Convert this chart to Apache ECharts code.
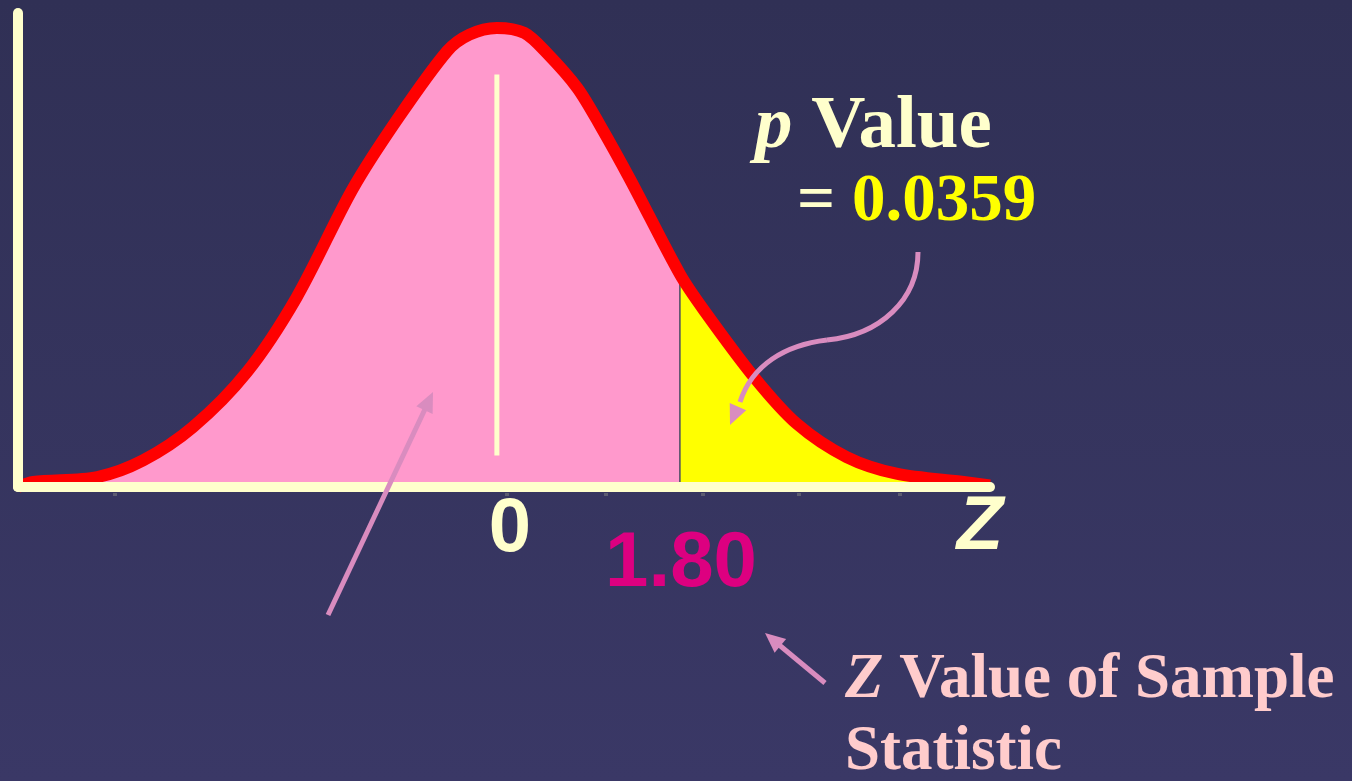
<!DOCTYPE html>
<html>
<head>
<meta charset="utf-8">
<script src="https://cdn.jsdelivr.net/npm/echarts@6/dist/echarts.min.js"></script>
<style>
  html, body { margin: 0; padding: 0; }
  #chart { width: 1352px; height: 781px; }
</style>
</head>
<body>
<div id="chart"></div>
<script>
// curve: z position and height of the red curve
var zValues = [-4.71, -4.56, -3.93, -3.48, -2.99, -2.46, -1.97, -1.42, -0.98, -0.49, -0.27, 0, 0.27, 0.49, 0.79, 1.01, 1.31, 1.80, 2.04, 2.53, 2.95, 3.44, 3.93, 4.59, 4.85];
var density = [0.000, 0.003, 0.006, 0.016, 0.036, 0.069, 0.114, 0.179, 0.221, 0.262, 0.272, 0.276, 0.273, 0.261, 0.240, 0.218, 0.185, 0.128, 0.106, 0.066, 0.038, 0.018, 0.008, 0.003, 0.001];
var zSample = 1.80;          // z value of the sample statistic
var pValue = '0.0359';
var tickValues = [-3.76, 0.10, 1.07, 2.02, 2.97, 3.96];
var centerLine = [0.019, 0.248];   // bottom / top of the cream line at z = 0

var CREAM = '#ffffcc', PINK = '#ff99cc', ARROW = '#d98cbf';

var curve = zValues.map(function (z, i) { return [z, density[i]]; });
var tail = [[zSample, 0]].concat(curve.filter(function (p) { return p[0] >= zSample; }));

var myChart = echarts.init(document.getElementById('chart'));

function arrow(x1, y1, x2, y2) {
  var dx = x2 - x1, dy = y2 - y1, len = Math.sqrt(dx * dx + dy * dy);
  var ux = dx / len, uy = dy / len, hl = 20, hw = 9;
  var bx = x2 - ux * hl, by = y2 - uy * hl;
  return {
    type: 'polygon', z: 100,
    shape: { points: [[x2, y2], [bx - uy * hw, by + ux * hw], [bx + uy * hw, by - ux * hw]] },
    style: { fill: ARROW }
  };
}
function shaft(x1, y1, x2, y2) {
  return { type: 'line', z: 100, shape: { x1: x1, y1: y1, x2: x2, y2: y2 }, style: { stroke: ARROW, lineWidth: 5 } };
}
function bez(x1, y1, c1x, c1y, c2x, c2y, x2, y2) {
  return {
    type: 'bezierCurve', z: 100,
    shape: { x1: x1, y1: y1, cpx1: c1x, cpy1: c1y, cpx2: c2x, cpy2: c2y, x2: x2, y2: y2 },
    style: { stroke: ARROW, lineWidth: 5, fill: null }
  };
}

var serif = '"Liberation Serif", "Times New Roman", serif';

myChart.setOption({
  backgroundColor: {
    type: 'linear', x: 0, y: 0, x2: 0, y2: 1,
    colorStops: [{ offset: 0, color: '#303055' }, { offset: 1, color: '#3a3866' }]
  },
  animation: false,
  grid: { left: 18, right: 362, top: 13, bottom: 294 },
  xAxis: [
    {
      type: 'value', min: -4.71, max: 4.85, z: 10,
      axisLine: { lineStyle: { color: CREAM, width: 10, cap: 'round' } },
      axisTick: { show: false }, axisLabel: { show: false }, splitLine: { show: false }
    },
    {
      type: 'value', min: -4.71, max: 4.85, position: 'bottom', offset: 6,
      axisLine: { show: false },
      axisTick: { show: true, customValues: tickValues, length: 3, lineStyle: { color: '#5c5c70', width: 4 } },
      axisLabel: { show: false }, splitLine: { show: false }
    }
  ],
  yAxis: {
    type: 'value', min: 0, max: 0.285, z: 10,
    axisLine: { show: true, onZero: false, lineStyle: { color: CREAM, width: 10, cap: 'round' } },
    axisTick: { show: false }, axisLabel: { show: false }, splitLine: { show: false }
  },
  series: [
    {
      type: 'line', data: curve, symbol: 'none', z: 1,
      lineStyle: { width: 0 }, areaStyle: { color: PINK, opacity: 1 }
    },
    {
      type: 'line', data: tail, symbol: 'none', z: 1, smooth: 0.3,
      lineStyle: { color: '#4a4a66', width: 1.5 }, areaStyle: { color: '#ffff00', opacity: 1 }
    },
    {
      type: 'line', data: curve, symbol: 'none', z: 2, smooth: 0.3,
      lineStyle: { color: '#ff0000', width: 12 }
    },
    {
      type: 'line', data: [[0, centerLine[0]], [0, centerLine[1]]], symbol: 'none', z: 3,
      lineStyle: { color: CREAM, width: 5 }
    }
  ],
  graphic: [
    { type: 'text', z: 100, x: 510, y: 530, style: { text: '0', fill: CREAM, font: 'bold 76px "Liberation Sans", Arial', align: 'center', verticalAlign: 'middle' } },
    { type: 'text', z: 100, x: 681, y: 564, style: { text: zSample.toFixed(2), fill: '#dd0080', font: 'bold 78px "Liberation Sans", Arial', align: 'center', verticalAlign: 'middle' } },
    { type: 'text', z: 100, x: 980, y: 528, style: { text: 'Z', fill: CREAM, font: 'italic bold 76px "Liberation Sans", Arial', align: 'center', verticalAlign: 'middle' } },
    {
      type: 'text', z: 100, x: 755, y: 128,
      style: {
        text: '{i|p }{b|Value}', fill: CREAM, verticalAlign: 'middle',
        rich: {
          i: { font: 'italic bold 75px ' + serif, fill: CREAM },
          b: { font: 'bold 75px ' + serif, fill: CREAM }
        }
      }
    },
    {
      type: 'text', z: 100, x: 797, y: 203,
      style: {
        text: '{e|= }{v|' + pValue + '}', verticalAlign: 'middle',
        rich: {
          e: { font: 'bold 67px ' + serif, fill: CREAM },
          v: { font: 'bold 67px ' + serif, fill: '#ffff00' }
        }
      }
    },
    {
      type: 'text', z: 100, x: 845, y: 681,
      style: {
        text: '{i|Z }{b|Value of Sample}', verticalAlign: 'middle',
        rich: {
          i: { font: 'italic bold 63px ' + serif, fill: '#ffcccc' },
          b: { font: 'bold 63px ' + serif, fill: '#ffcccc' }
        }
      }
    },
    { type: 'text', z: 100, x: 845, y: 753, style: { text: 'Statistic', fill: '#ffcccc', font: 'bold 63px ' + serif, verticalAlign: 'middle' } },
    shaft(328, 615, 426, 407), arrow(328, 615, 433, 392),
    shaft(825, 683, 772, 639), arrow(825, 683, 765, 633),
    bez(918, 252, 918, 300, 880, 335, 827, 340),
    bez(827, 340, 785, 345, 752, 365, 740, 402),
    arrow(740, 402, 730, 425)
  ]
});
</script>
</body>
</html>
